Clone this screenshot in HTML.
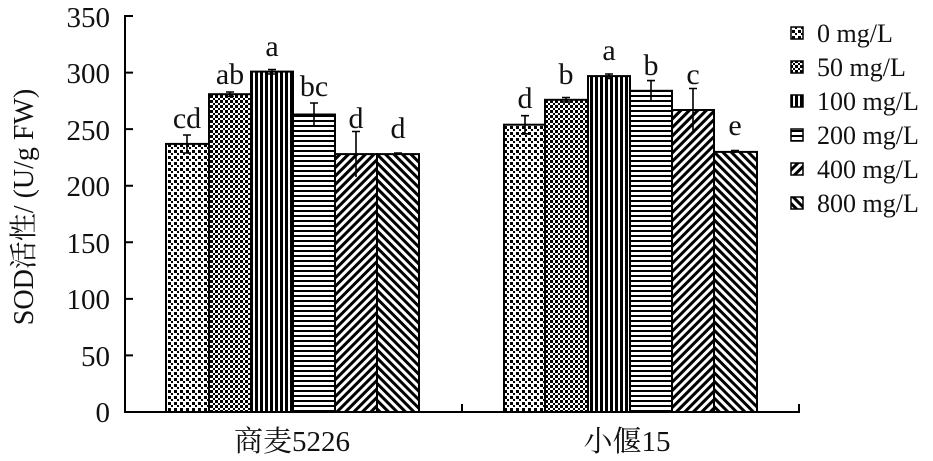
<!DOCTYPE html>
<html><head><meta charset="utf-8"><style>
html,body{margin:0;padding:0;background:#fff;}
svg{display:block;font-family:"Liberation Serif","Noto Serif CJK SC",serif;}
</style></head><body>
<svg width="933" height="461" viewBox="0 0 933 461" xmlns="http://www.w3.org/2000/svg">
<defs>
<pattern id="p0" width="6" height="6" patternUnits="userSpaceOnUse">
<rect width="6" height="6" fill="#fff"/><rect x="0" y="0" width="3" height="3" fill="#000"/><rect x="3" y="3" width="2" height="2" fill="#000"/></pattern>
<pattern id="p1" width="5" height="5" patternUnits="userSpaceOnUse">
<rect width="5" height="5" fill="#fff"/><rect x="0" y="0" width="3" height="3" fill="#000"/><rect x="3" y="3" width="2" height="2" fill="#000"/></pattern>
<pattern id="p2" width="5" height="5" patternUnits="userSpaceOnUse">
<rect width="5" height="5" fill="#fff"/><rect x="0" y="0" width="3" height="5" fill="#000"/></pattern>
<pattern id="p3" width="5" height="5" patternUnits="userSpaceOnUse">
<rect width="5" height="5" fill="#fff"/><rect x="0" y="0" width="5" height="2" fill="#000"/></pattern>
<pattern id="p4" width="6" height="6" patternUnits="userSpaceOnUse" patternTransform="rotate(45)">
<rect width="6" height="6" fill="#fff"/><rect x="0" y="0" width="3" height="6" fill="#000"/></pattern>
<pattern id="p5" width="6" height="6" patternUnits="userSpaceOnUse" patternTransform="rotate(-45)">
<rect width="6" height="6" fill="#fff"/><rect x="0" y="0" width="3" height="6" fill="#000"/></pattern>
</defs>
<g stroke="#000" stroke-width="2">
<rect x="166" y="143.9" width="43" height="268.1" fill="url(#p0)"/>
<rect x="209" y="94.2" width="42" height="317.8" fill="url(#p1)"/>
<rect x="251" y="71.6" width="42" height="340.4" fill="url(#p2)"/>
<rect x="293" y="114.5" width="42" height="297.5" fill="url(#p3)"/>
<rect x="335" y="154.1" width="42" height="257.9" fill="url(#p4)"/>
<rect x="377" y="154.1" width="42" height="257.9" fill="url(#p5)"/>
<rect x="504" y="124.7" width="41" height="287.3" fill="url(#p0)"/>
<rect x="545" y="99.8" width="43" height="312.2" fill="url(#p1)"/>
<rect x="588" y="76.1" width="42" height="335.9" fill="url(#p2)"/>
<rect x="630" y="90.8" width="42" height="321.2" fill="url(#p3)"/>
<rect x="672" y="110" width="42" height="302" fill="url(#p4)"/>
<rect x="714" y="151.9" width="43" height="260.1" fill="url(#p5)"/>
</g>
<g stroke="#000" stroke-width="1.6" fill="none">
<path d="M187 135V153M183 135H191M183 153H191"/>
<path d="M230 92V96.5M226 92H234M226 96.5H234"/>
<path d="M272 69.5V74M268 69.5H276M268 74H276"/>
<path d="M314 103V126M310 103H318M310 126H318"/>
<path d="M356 131.5V177M352 131.5H360"/>
<path d="M398 153V155M394 153H402"/>
<path d="M525 115.7V133.8M521 115.7H529M521 133.8H529"/>
<path d="M566 97.5V102M562 97.5H570M562 102H570"/>
<path d="M609 74V78.5M605 74H613M605 78.5H613"/>
<path d="M651 80.6V101M647 80.6H655M647 101H655"/>
<path d="M693 88.5V131.5M689 88.5H697"/>
<path d="M735 150.5V153M731 150.5H739"/>
</g>
<g font-size="30" text-anchor="middle" fill="#111">
<text x="187" y="128">cd</text><text x="230" y="84">ab</text><text x="272" y="56">a</text>
<text x="314" y="96">bc</text><text x="356" y="128">d</text><text x="398" y="138">d</text>
<text x="525" y="108">d</text><text x="566" y="84">b</text><text x="609" y="60">a</text>
<text x="651" y="75">b</text><text x="693" y="84">c</text><text x="735" y="135">e</text>
</g>
<g stroke="#000" stroke-width="2" fill="none">
<path d="M133 16H125V412H799V404"/>
<path d="M125 72.6H133M125 129.1H133M125 185.7H133M125 242.3H133M125 298.9H133M125 355.4H133M462 412V404"/>
</g>
<g font-size="29" text-anchor="end" fill="#111">
<text x="110" y="27">350</text><text x="110" y="83">300</text><text x="110" y="140">250</text>
<text x="110" y="196">200</text><text x="110" y="253">150</text><text x="110" y="309">100</text>
<text x="110" y="366">50</text><text x="110" y="422">0</text>
</g>
<text transform="translate(33 207) rotate(-90)" font-size="28" text-anchor="middle" fill="#111">SOD活性/ (U/g FW)</text>
<g font-size="29" text-anchor="middle" fill="#111">
<text x="292" y="451">商麦5226</text><text x="627" y="451">小偃15</text>
</g>
<g stroke="#000" stroke-width="1.5">
<rect x="791" y="27" width="12" height="12" fill="url(#p0)"/>
<rect x="791" y="61" width="12" height="12" fill="url(#p1)"/>
<rect x="791" y="95" width="12" height="12" fill="url(#p2)"/>
<rect x="791" y="129" width="12" height="12" fill="url(#p3)"/>
<rect x="791" y="163" width="12" height="12" fill="url(#p4)"/>
<rect x="791" y="197" width="12" height="12" fill="url(#p5)"/>
</g>
<g font-size="26" fill="#111">
<text x="817" y="42">0 mg/L</text><text x="817" y="76">50 mg/L</text><text x="817" y="110">100 mg/L</text>
<text x="817" y="144">200 mg/L</text><text x="817" y="178">400 mg/L</text><text x="817" y="212">800 mg/L</text>
</g>
</svg>
</body></html>
